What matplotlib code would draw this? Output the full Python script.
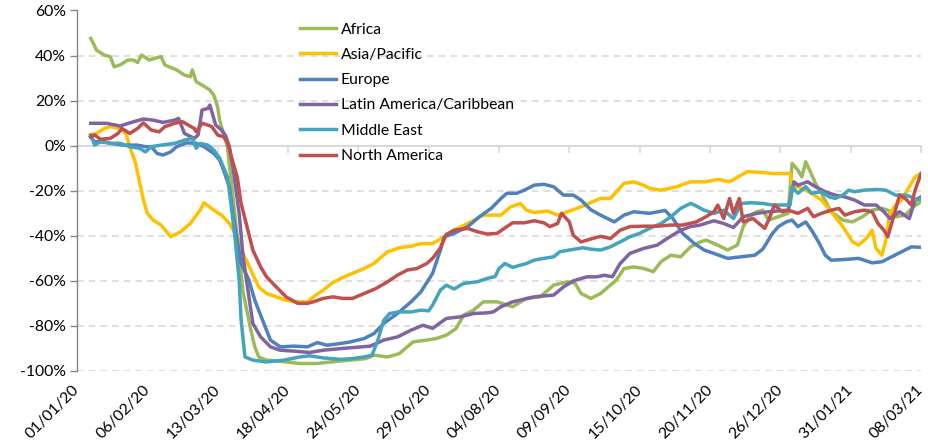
import numpy as np
import matplotlib
matplotlib.use('Agg')
import matplotlib.pyplot as plt
import pandas as pd

plt.rcParams['font.family'] = ['Lato', 'DejaVu Sans']
plt.rcParams['font.size'] = 11

start = pd.Timestamp('2020-01-01')
tick_days = list(range(0, 433, 36))
tick_labels = [(start + pd.Timedelta(days=d)).strftime('%d/%m/%y') for d in tick_days]

# (days since 01/01/20, % change)
africa = [(7,47.6),(8,46),(10,42.4),(14,40.2),(17,39.5),(19,35),(22,35.8),(26,38),(29,38),(31,36.9),
          (33,40.2),(37,38),(40,38.8),(43,39.5),(45,35.8),(49,34.3),(51,33.6),(55,31.3),(58,30.6),(59,33.6),
          (61,28.4),(64,26.9),(68,24.7),(70,22.4),(72,17.2),(73,11.3),(75,5.4),(77,-0.5),(80,-24),(85,-65),
          (89,-82),(91,-89.4),(93,-93.9),(97,-95.3),(106,-96),(114,-96.8),(123,-96.8),(131,-96),(140,-95.3),
          (148,-94.6),(152,-93.1),(159,-93.9),(165,-92.4),(172,-87.2),(179,-86.4),(184,-85.7),(189,-84.2),
          (194,-81.3),(198,-75.3),(203,-73.1),(208,-69.4),(215,-69.4),(223,-71.6),(230,-67.9),(237,-67.2),
          (244,-62),(251,-60.5),(255,-61.2),(258,-65.7),(263,-67.9),(268,-65.7),(276,-59.8),(280,-54.6),
          (285,-53.9),(290,-54.6),(295,-56),(299,-51.5),(304,-48.7),(309,-49.4),(314,-45),(319,-42.8),(322,-42),
          (328,-44.2),(333,-46.4),(338,-44.2),(341,-36),(345,-30.9),(348,-29.4),(351,-28.7),(354,-33.1),
          (359,-31.6),(364,-30.1),(366,-7.9),(369,-10.9),(371,-13.9),(373,-7.2),(375,-10.9),(378,-16.8),
          (381,-21.2),(386,-29.4),(392,-33.1),(397,-33.9),(402,-31.6),(407,-28.7),(412,-27.9),(415,-28.7),
          (419,-31.6),(424,-30.9),(428,-27.2),(432,-25)]

asia = [(7,4.7),(10,5.4),(14,7.6),(17,8.4),(22,7.6),(25,5.4),(27,-0.5),(30,-7.9),(34,-24.2),(36,-30.1),
        (39,-33.1),(43,-35.3),(48,-40.5),(53,-38.3),(58,-34.6),(63,-28.7),(65,-25.4),(70,-28.7),(74,-30.9),
        (78,-34.6),(82,-40.5),(85,-47.9),(89,-55.3),(93,-62.8),(97,-65.7),(102,-67.2),(107,-68.7),(112,-69.4),
        (118,-69.4),(121,-67.2),(126,-64.2),(131,-60.8),(136,-58.6),(142,-56.4),(147,-54.6),(152,-52.4),
        (155,-50.1),(159,-47.2),(165,-45.4),(171,-44.7),(176,-43.6),(182,-43.5),(188,-40.5),(193,-37.6),
        (200,-34.6),(208,-30.9),(217,-30.9),(222,-27.2),(227,-25.7),(230,-28.7),(234,-29.7),(241,-29.1),
        (246,-30.9),(251,-29.4),(256,-27.9),(261,-26),(268,-23.5),(273,-23.5),(280,-16.8),(285,-16.1),
        (290,-17.6),(293,-19),(299,-19.8),(307,-18.3),(314,-16.1),(322,-16.1),(328,-15),(334,-16.1),
        (343,-11.6),(350,-11.9),(356,-12.4),(365,-12.4),(366,-17.6),(371,-19),(376,-21.2),(381,-24.2),
        (386,-29.4),(392,-36),(397,-42.8),(400,-44.2),(404,-41.3),(407,-37.6),(409,-45.7),(412,-48.7),
        (414,-42),(416,-30.1),(419,-26.4),(422,-24.2),(426,-18.3),(429,-13.9),(432,-12.4)]

europe = [(7,3.9),(9,1.7),(14,1.7),(17,1),(24,0.2),(31,0.2),(35,-0.5),(38,-0.5),(41,-3.5),(44,-4.2),
          (48,-2.8),(51,-0.5),(56,1.2),(61,1),(65,-0.5),(70,-3.5),(73,-6.4),(75,-10.9),(78,-18.3),(80,-31.6),
          (82,-42),(84,-52.4),(88,-59.8),(91,-68.7),(95,-77.6),(99,-86.4),(104,-89.4),(111,-89.1),(118,-89.4),
          (123,-87.5),(128,-88.7),(135,-87.9),(140,-87.2),(147,-85.7),(152,-83.5),(157,-79),(164,-74.6),
          (171,-69.4),(176,-65),(182,-56.8),(186,-46.4),(188,-40.5),(193,-39),(200,-36),(206,-31.6),
          (212,-27.9),(217,-23.5),(220,-21.2),(225,-21.2),(229,-19.8),(234,-17.6),(239,-17.2),(244,-18.3),
          (249,-22),(254,-22),(258,-24.2),(263,-28.5),(268,-30.9),(275,-33.9),(280,-30.9),(285,-29.4),
          (293,-30.1),(301,-28.8),(305,-32.4),(310,-39),(316,-43.5),(321,-46.4),(326,-47.9),(333,-50.1),
          (340,-49.4),(347,-48.7),(351,-46),(356,-39),(359,-36),(363,-33.9),(366,-33.1),(369,-36),(373,-33.9),
          (376,-37.6),(380,-43.5),(383,-48.7),(386,-50.9),(393,-50.6),(400,-50.1),(407,-52.1),(412,-51.6),
          (417,-49.4),(422,-47.2),(427,-45),(432,-45.2)]

latam = [(7,9.9),(15,9.9),(22,8.7),(29,10.6),(34,11.8),(39,11.3),(44,10.3),(50,11.3),(52,12.1),(55,5.4),
         (60,3.2),(62,4.7),(64,15.8),(67,16.5),(68,18),(71,9.1),(74,6.9),(76,4.5),(78,-0.5),(80,-10.9),
         (83,-30.1),(85,-49.4),(88,-67.2),(90,-79),(94,-85),(99,-89.4),(104,-90.9),(111,-91.3),(119,-91.9),
         (126,-90.9),(136,-90.1),(143,-89.6),(150,-89.1),(157,-86.4),(164,-85),(171,-82),(177,-79.8),
         (182,-81.2),(189,-76.8),(196,-76.1),(203,-74.6),(210,-74.3),(213,-73.9),(217,-71.6),(223,-69.4),
         (234,-67.2),(244,-66.4),(249,-62.8),(254,-60.1),(261,-58.3),(266,-58.3),(270,-57.6),(274,-58.3),
         (278,-52.4),(283,-47.9),(290,-45.7),(297,-44.2),(302,-41.3),(309,-37.6),(314,-36),(319,-35.3),
         (326,-33.4),(331,-34.6),(336,-36.4),(341,-31.6),(348,-30.1),(354,-29.4),(364,-28.7),(367,-16.1),
         (369,-17.6),(374,-16.1),(378,-18.3),(383,-20.5),(388,-22),(393,-22.8),(398,-24.2),(403,-26.4),
         (409,-26.4),(413,-29.4),(416,-32.4),(421,-29.4),(426,-32.4),(429,-24.2),(432,-22.8)]

mideast = [(7,4.7),(9,0.2),(12,1.7),(17,1),(22,1),(27,-0.5),(32,-1.2),(35,-2.8),(38,-0.5),(43,0.2),
           (50,1),(55,2.4),(59,3.2),(61,-1.2),(63,1),(67,0.2),(70,-2),(73,-5.5),(77,-13.9),(79,-27.2),
           (81,-42),(83,-59.8),(84,-77.6),(86,-93.9),(90,-95.3),(97,-96.1),(106,-95.3),(114,-93.9),(119,-93.4),
           (126,-94.3),(135,-95),(141,-94.6),(147,-93.9),(151,-93.1),(154,-86.4),(157,-77.6),(160,-74.6),
           (165,-73.9),(171,-73.9),(176,-73.1),(180,-73.4),(182,-70.9),(186,-64.2),(189,-62),(193,-63.7),
           (198,-61.2),(205,-60.5),(210,-59),(214,-58.2),(216,-54.6),(219,-52.4),(223,-54.1),(227,-53.1),
           (230,-52.4),(234,-50.9),(239,-50.1),(244,-49.4),(247,-47.2),(252,-46.4),(259,-45.4),(263,-46),
           (268,-46.4),(273,-45),(278,-42.8),(283,-40.5),(288,-39),(293,-36.8),(299,-34.6),(304,-31.6),
           (309,-27.9),(314,-25.7),(316,-26.4),(321,-28.7),(326,-30.1),(331,-28.7),(336,-32.4),(340,-25.7),
           (345,-25.4),(351,-25.7),(356,-26.4),(365,-26.4),(366,-18.3),(369,-21.2),(373,-18.3),(376,-21.2),
           (381,-20.5),(385,-22.8),(388,-23.5),(392,-22),(395,-19.8),(398,-20.5),(403,-19.8),(409,-19.5),
           (414,-19.8),(419,-22),(424,-22),(427,-22.8),(430,-24.2),(432,-23.5)]

namerica = [(7,3.9),(9,4.7),(12,2.8),(17,3.2),(21,5.4),(23,7.6),(27,5.4),(31,7.6),(34,10.1),(38,6.9),
            (42,6.1),(45,8.4),(50,9.9),(54,10.6),(57,9.1),(60,7.6),(61,6.1),(64,9.9),(67,9.1),(69,8.4),
            (72,4.7),(75,3.9),(77,1.5),(79,-5),(82,-13.9),(84,-25.7),(87,-36),(90,-46.4),(94,-53.9),(97,-58.3),
            (102,-62.8),(107,-67.2),(113,-70.1),(118,-70.1),(121,-69.4),(126,-67.9),(131,-67.2),(136,-67.9),
            (141,-67.9),(147,-65.7),(153,-63.5),(159,-60.5),(164,-57.6),(169,-55.3),(174,-54.6),(179,-52.4),
            (182,-50.1),(186,-45.4),(189,-39.5),(193,-37.6),(200,-36.8),(205,-38.3),(210,-39.3),(215,-39),
            (220,-36),(223,-34.3),(229,-34.3),(234,-33.4),(239,-34.3),(242,-36),(246,-34.6),(248,-30.1),
            (252,-33.9),(254,-39.8),(258,-42.8),(263,-41.5),(268,-40.3),(273,-41.3),(278,-37.6),(283,-36),
            (290,-35.8),(297,-35.8),(304,-35.3),(310,-35.3),(317,-33.9),(322,-31.6),(326,-29.4),(328,-26.4),
            (331,-32.4),(334,-23.5),(336,-30.1),(339,-23.5),(341,-33.9),(346,-32.4),(350,-35.3),(352,-36.8),
            (354,-33.1),(357,-26.4),(361,-29.4),(364,-28.7),(369,-30.1),(374,-27.9),(377,-31.6),(381,-30.1),
            (386,-28.7),(390,-27.9),(393,-30.9),(398,-29.4),(403,-28.7),(407,-29.4),(410,-34.6),(413,-37.6),
            (415,-40.5),(418,-31.6),(421,-22),(424,-23.5),(427,-26.4),(429,-19.8),(432,-12.4)]

series = [('Africa', africa, '#9BBB59'),
          ('Asia/Pacific', asia, '#FFC000'),
          ('Europe', europe, '#4F81BD'),
          ('Latin America/Caribbean', latam, '#8064A2'),
          ('Middle East', mideast, '#44A3BD'),
          ('North America', namerica, '#C0504D')]

fig = plt.figure(figsize=(9.29, 4.45), dpi=100)
ax = fig.add_axes([77/929, 1-370.7/445, (921-77)/929, (370.7-10.5)/445])

for name, pts, col in series:
    d, v = zip(*pts)
    ax.plot(d, v, color=col, lw=2.5, label=name, solid_joinstyle='round')

ax.set_xlim(0, 432)
ax.set_ylim(-100, 60)
ax.set_yticks(range(-100, 61, 20))
ax.set_yticklabels(['%d%%' % t for t in range(-100, 61, 20)])
for t in range(-100, 61, 20):
    if t != 0:
        ax.axhline(t, color='#d9d9d9', lw=1.2, ls=(0, (4, 3)), zorder=0)

for s in ['top', 'right']:
    ax.spines[s].set_visible(False)
ax.spines['left'].set_color('#868686')
ax.spines['left'].set_linewidth(1.0)
ax.spines['bottom'].set_position(('data', 0))
ax.spines['bottom'].set_color('#d9d9d9')
ax.spines['bottom'].set_linewidth(1.5)
ax.spines['bottom'].set_zorder(0.5)

ax.set_xticks(tick_days)
ax.tick_params(axis='x', direction='out', length=5, width=1.2, color='#d9d9d9', labelbottom=False)
ax.tick_params(axis='y', direction='out', length=5, width=1.0, color='#868686', labelsize=11.3, pad=3)

sec = ax.secondary_xaxis('bottom')
sec.set_xticks(tick_days)
sec.set_xticklabels(tick_labels, rotation=45, ha='right', va='center', rotation_mode='anchor')
sec.tick_params(length=0, labelsize=11.3, pad=12)
sec.spines['bottom'].set_visible(False)

leg = ax.legend(loc='upper left', bbox_to_anchor=(300/929, 1-22.5/445), bbox_transform=fig.transFigure,
                frameon=False, fontsize=11.3, handlelength=2.3, handletextpad=0.3,
                labelspacing=0.72, borderpad=0, borderaxespad=0)

fig.savefig('out.png', dpi=100)
